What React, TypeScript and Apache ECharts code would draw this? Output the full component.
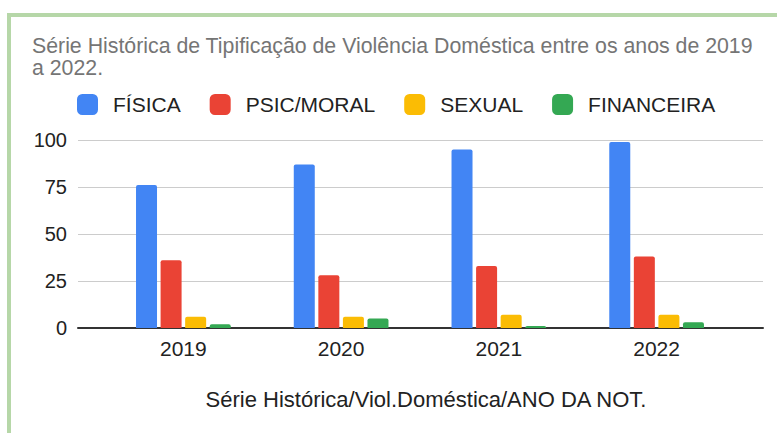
import React, { useEffect, useRef } from "react";
import * as echarts from "echarts";

const years = ["2019", "2020", "2021", "2022"];
const seriesNames = ["FÍSICA", "PSIC/MORAL", "SEXUAL", "FINANCEIRA"];
const fisica = [76, 87, 95, 99];
const psicMoral = [36, 28, 33, 38];
const sexual = [6, 6, 7, 7];
const financeira = [2, 5, 1, 3];
const colors = ["#4285f4", "#ea4335", "#fbbc04", "#34a853"];
const titleText =
  "Série Histórica de Tipificação de Violência Doméstica entre os anos de 2019\na 2022.";
const axisTitle = "Série Histórica/Viol.Doméstica/ANO DA NOT.";

const FONT = "'Liberation Sans', Arial, sans-serif";

export default function App() {
  const ref = useRef<HTMLDivElement>(null);
  useEffect(() => {
    if (!ref.current) return;
    const chart = echarts.init(ref.current, undefined, { renderer: "svg" });
    const values = [fisica, psicMoral, sexual, financeira];
    chart.setOption({
      animation: false,
      textStyle: { fontFamily: FONT },
      title: {
        text: titleText,
        left: 32,
        top: 35,
        padding: 0,
        textStyle: {
          fontSize: 21.3,
          fontWeight: "normal",
          color: "#757575",
          lineHeight: 21.7,
          fontFamily: FONT,
        },
      },
      legend: {
        left: 77,
        top: 94,
        padding: 0,
        itemWidth: 21,
        itemHeight: 21,
        itemGap: 29,
        icon: "roundRect",
        data: seriesNames,
        textStyle: {
          fontSize: 21,
          color: "#222",
          fontFamily: FONT,
          padding: [0, 0, 0, 10],
        },
      },
      grid: [
        { left: 78, right: 14, top: 140, height: 188 },
        { left: 104.5, width: 631, top: 140, height: 188 },
      ],
      xAxis: [
        {
          type: "category",
          gridIndex: 0,
          data: years,
          axisLine: { show: true, lineStyle: { color: "#333", width: 2 } },
          axisTick: { show: false },
          axisLabel: { show: false },
          splitLine: { show: false },
        },
        {
          type: "category",
          gridIndex: 1,
          data: years,
          axisLine: { show: false },
          axisTick: { show: false },
          axisLabel: { fontSize: 21, color: "#222", margin: 10, fontFamily: FONT },
        },
      ],
      yAxis: [
        {
          type: "value",
          gridIndex: 0,
          min: 0,
          max: 100,
          interval: 25,
          axisLine: { show: false },
          axisTick: { show: false },
          axisLabel: { fontSize: 20, color: "#222", margin: 11, fontFamily: FONT },
          splitLine: { lineStyle: { color: "#cccccc", width: 1 } },
        },
        {
          type: "value",
          gridIndex: 1,
          min: 0,
          max: 100,
          interval: 25,
          show: false,
          splitLine: { show: false },
        },
      ],
      series: seriesNames.map((name, i) => ({
        name,
        type: "bar",
        xAxisIndex: 1,
        yAxisIndex: 1,
        data: values[i],
        barWidth: 21,
        barGap: "17%",
        itemStyle: { color: colors[i], borderRadius: [2, 2, 0, 0] },
      })),
      graphic: [
        {
          type: "text",
          x: 426,
          y: 399,
          style: {
            text: axisTitle,
            fontSize: 22,
            fontFamily: FONT,
            fill: "#222",
            align: "center",
            verticalAlign: "middle",
          },
        },
      ],
    });
    return () => chart.dispose();
  }, []);
  return (
    <div
      style={{
        position: "fixed",
        left: 0,
        top: 0,
        width: 777,
        height: 433,
        overflow: "hidden",
        background: "#fff",
      }}
    >
      <div
        style={{
          position: "absolute",
          left: 7,
          top: 13,
          width: 900,
          height: 600,
          borderLeft: "4px solid #b6d7a8",
          borderTop: "4px solid #b6d7a8",
        }}
      />
      <div ref={ref} style={{ position: "absolute", left: 0, top: 0, width: 777, height: 433 }} />
    </div>
  );
}
